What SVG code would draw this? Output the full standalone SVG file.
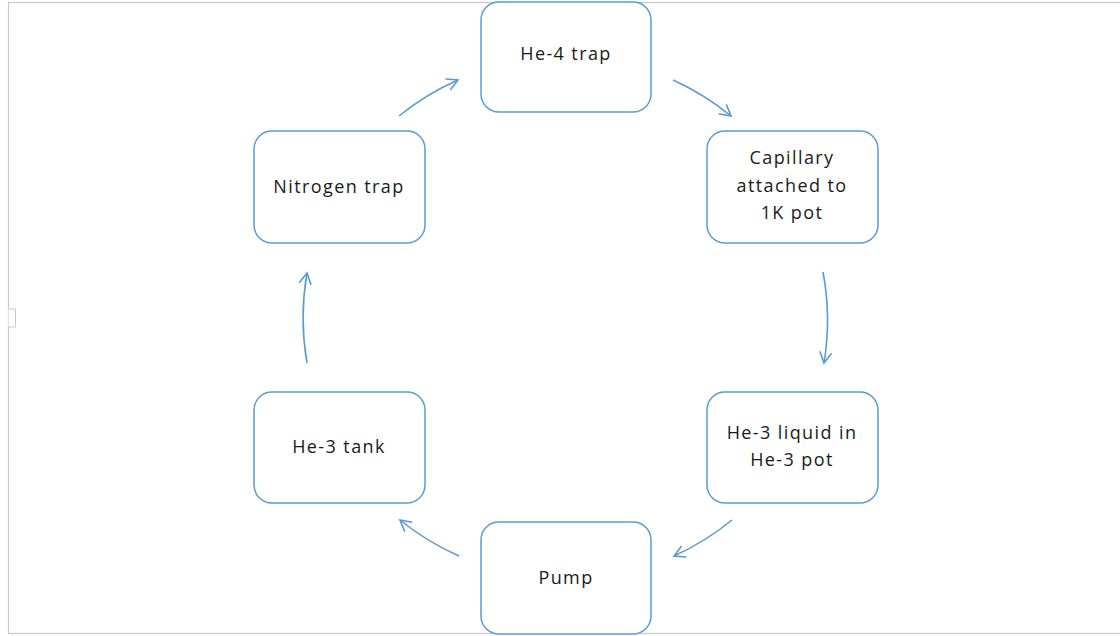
<svg xmlns="http://www.w3.org/2000/svg" width="1120" height="636" viewBox="0 0 1120 636">
<defs>
<style>
.node rect{fill:#fff;stroke:#5b9bd5;stroke-width:1.5}
.node text{font-family:"Open Sans","Liberation Sans",sans-serif;font-size:18px;letter-spacing:1.4px;fill:#1a1a1a;text-anchor:middle}
.conn path{fill:none;stroke:#5b9bd5;stroke-width:1.6}
.frame{fill:none;stroke:#c8c8c8;stroke-width:1.2}
</style>
<marker id="ah" viewBox="0 0 14 14" refX="12" refY="7" markerWidth="14" markerHeight="14" markerUnits="userSpaceOnUse" orient="auto">
<path d="M1,1 L12,7 L1,13" fill="none" stroke="#5b9bd5" stroke-width="1.6"/>
</marker>
</defs>
<rect width="1120" height="636" fill="#fff"/>
<rect class="frame" x="8.5" y="2.5" width="1120" height="631"/>
<path d="M558,2.5 v6 h14 v-6 M8.5,309 h7 v18 h-7 M558,633.5 v-5 h14 v5" fill="#fff" stroke="#c8c8c8" stroke-width="1"/>
<g class="conn">
<path d="M399,116 A261,261 0 0 1 458,80" marker-end="url(#ah)"/>
<path d="M673,80 A261,261 0 0 1 731,116" marker-end="url(#ah)"/>
<path d="M823,272 A261,261 0 0 1 824,363" marker-end="url(#ah)"/>
<path d="M732,520 A261,261 0 0 1 674,556" marker-end="url(#ah)"/>
<path d="M459,556 A261,261 0 0 1 400,520" marker-end="url(#ah)"/>
<path d="M307,363 A261,261 0 0 1 307,273" marker-end="url(#ah)"/>
</g>
<g class="node" id="he4"><rect x="481" y="2" width="170" height="110" rx="18"/><text x="566" y="60">He-4 trap</text></g>
<g class="node" id="cap"><rect x="707" y="131" width="171" height="112" rx="18"/><text x="792" y="164">Capillary</text><text x="792" y="192">attached to</text><text x="792" y="219">1K pot</text></g>
<g class="node" id="he3liq"><rect x="707" y="392" width="171" height="111" rx="18"/><text x="792" y="439">He-3 liquid in</text><text x="792" y="466">He-3 pot</text></g>
<g class="node" id="pump"><rect x="481" y="522" width="170" height="112" rx="18"/><text x="566" y="584">Pump</text></g>
<g class="node" id="he3tank"><rect x="254" y="392" width="171" height="111" rx="18"/><text x="339" y="453">He-3 tank</text></g>
<g class="node" id="n2"><rect x="254" y="131" width="171" height="112" rx="18"/><text x="339" y="193">Nitrogen trap</text></g>
</svg>
